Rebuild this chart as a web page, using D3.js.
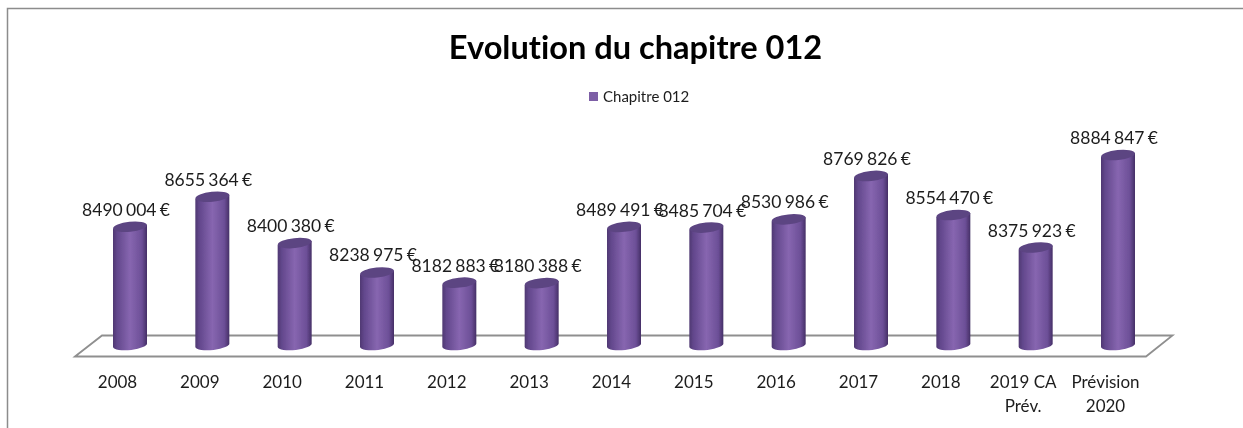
<!DOCTYPE html>
<html><head><meta charset="utf-8">
<script src="https://cdnjs.cloudflare.com/ajax/libs/d3/7.8.5/d3.min.js"></script>
<style>html,body{margin:0;padding:0;background:#fff}svg{display:block}text{font-family:Lato,"Open Sans",sans-serif;fill:#1c1c1c;font-variant-ligatures:none}</style>
</head><body><svg id="c" width="1243" height="428"></svg>
<script>
const categories=["2008","2009","2010","2011","2012","2013","2014","2015","2016","2017","2018","2019 CA|Prév.","Prévision|2020"];
const values=[8490004,8655364,8400380,8238975,8182883,8180388,8489491,8485704,8530986,8769826,8554470,8375923,8884847];
const labels=["8490 004 €","8655 364 €","8400 380 €","8238 975 €","8182 883 €","8180 388 €","8489 491 €","8485 704 €","8530 986 €","8769 826 €","8554 470 €","8375 923 €","8884 847 €"];
const titleText="Evolution du chapitre 012", seriesName="Chapitre 012";
const W=1243,H=428,svg=d3.select("#c");
const x=d3.scalePoint().domain(categories).range([130,1118]);
const y=d3.scaleLinear().domain([7840000,8884847]).range([345,155]);
const rx=17,ry=5;
const defs=svg.append("defs");
const g=defs.append("linearGradient").attr("id","cyl");
[[0,"#4f3872"],[.12,"#62478c"],[.5,"#8766b0"],[.85,"#6c4f97"],[1,"#452f66"]].forEach(s=>g.append("stop").attr("offset",s[0]).attr("stop-color",s[1]));
defs.append("filter").attr("id","soft").append("feGaussianBlur").attr("stdDeviation",.5);
const root=svg.append("g").attr("filter","url(#soft)");
root.append("path").attr("d",`M7.5 ${H}V8.5H${W}`).attr("fill","none").attr("stroke","#8c8c8c").attr("stroke-width",1.5);
root.append("path").attr("d","M75 356.5L102 335.5H1172.5L1146 356.5Z").attr("fill","#fff").attr("stroke","#8f8f8f").attr("stroke-width",1.8);
const bars=root.selectAll("g.b").data(categories).join("g").attr("class","b");
bars.append("path").attr("fill","url(#cyl)").attr("d",(c,i)=>{
 const cx=x(c),t=y(values[i]),b=y.range()[0];
 return `M${cx-rx} ${t+2}L${cx-rx} ${b+2}A${rx} ${ry} -6 0 0 ${cx+rx} ${b-2}L${cx+rx} ${t-2}Z`;});
bars.append("ellipse").attr("fill","#5c4482").attr("cx",c=>x(c)).attr("cy",(c,i)=>y(values[i]))
 .attr("rx",rx).attr("ry",ry).attr("transform",(c,i)=>`rotate(-6 ${x(c)} ${y(values[i])})`);
root.selectAll("text.v").data(labels).join("text").attr("class","v")
 .attr("x",(d,i)=>x(categories[i])-4).attr("y",(d,i)=>y(values[i])-11)
 .attr("text-anchor","middle").attr("font-size",17.5).attr("word-spacing",-1.2).text(d=>d);
const ax=root.append("g").attr("transform","translate(-13,383)").call(d3.axisBottom(x).tickSize(0).tickPadding(0));
ax.select(".domain").remove();
ax.selectAll("text").attr("font-size",17).attr("y",0).attr("dy","0.9em").attr("fill","#1c1c1c").each(function(d){
 const t=d3.select(this),px=d.split("|");t.text(null);
 px.forEach((p,i)=>t.append("tspan").attr("x",0).attr("dy",i?"24":"0.3em").text(p));
});
ax.selectAll("text").style("font-family",'Lato,"Open Sans",sans-serif');
root.append("text").attr("x",635.5).attr("y",59).attr("text-anchor","middle").attr("font-size",32.6).attr("font-weight",700).style("fill","#000").text(titleText);
root.append("rect").attr("x",589).attr("y",92).attr("width",9).attr("height",9).attr("fill","#7d5fa6");
root.append("text").attr("x",603).attr("y",102).attr("font-size",15).text(seriesName);
</script></body></html>
